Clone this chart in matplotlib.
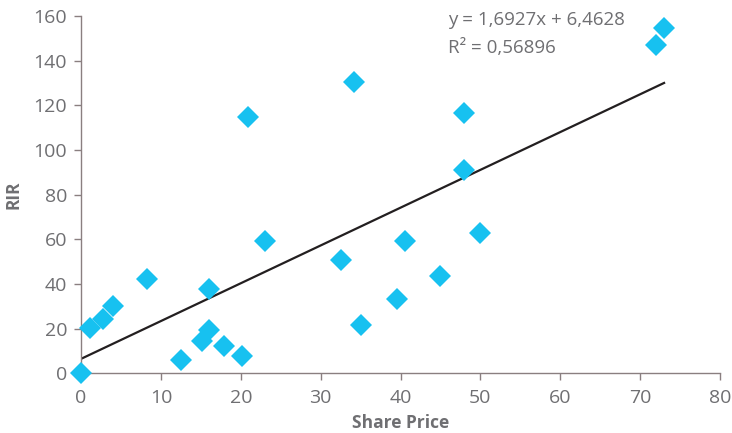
import numpy as np
import matplotlib.pyplot as plt

# data
share_price = [0.0, 1.1, 2.7, 4.0, 8.3, 12.5, 15.2, 16.0, 16.0, 17.9, 20.2, 20.9,
               23.0, 32.6, 34.2, 35.1, 39.6, 40.6, 45.0, 48.0, 48.0, 49.9, 72.0, 73.0]
rir = [0.0, 20.3, 24.5, 30.0, 42.1, 5.9, 14.5, 19.6, 37.9, 12.2, 7.7, 115.0,
       59.4, 50.6, 130.5, 21.8, 33.3, 59.4, 43.6, 116.4, 91.2, 62.8, 147.2, 154.6]

# trendline (Excel)
slope = 1.6927
intercept = 6.4628
r2_text = 'R² = 0,56896'
eq_text = 'y = 1,6927x + 6,4628'

plt.rcParams['font.family'] = ['Open Sans', 'DejaVu Sans']

grey = '#6f6f72'
axis_col = '#8a7f80'

fig = plt.figure(figsize=(7.32, 4.33), dpi=100)
ax = fig.add_axes([0.1107, 0.1379, 0.8729, 0.8251])

ax.plot(share_price, rir, linestyle='none', marker='D', markersize=11.5,
        color='#17c1f0', markeredgewidth=0, zorder=3, clip_on=False)

xs = np.array([0, max(share_price)])
ax.plot(xs, slope * xs + intercept, color='#231f20', linewidth=1.6, zorder=2)

ax.set_xlim(0, 80)
ax.set_ylim(0, 160)
ax.set_xticks(range(0, 81, 10))
ax.set_yticks(range(0, 161, 20))

for s in ['top', 'right']:
    ax.spines[s].set_visible(False)
for s in ['left', 'bottom']:
    ax.spines[s].set_color(axis_col)
    ax.spines[s].set_linewidth(1.0)

ax.tick_params(axis='both', direction='out', length=5, width=1, color=axis_col,
               labelcolor=grey, labelsize=14)
ax.tick_params(axis='y', pad=5)
ax.tick_params(axis='x', pad=6)

ax.set_xlabel('Share Price', fontsize=12.5, fontweight='bold', color=grey, labelpad=5)
ax.set_ylabel('RIR', fontsize=12.5, fontweight='bold', color=grey, labelpad=8)

ax.text(45.9, 158.2, eq_text, fontsize=13.5, color=grey, va='center', ha='left')
ax.text(45.9, 145.7, r2_text, fontsize=13.5, color=grey, va='center', ha='left')

fig.savefig('out.png', dpi=100)
